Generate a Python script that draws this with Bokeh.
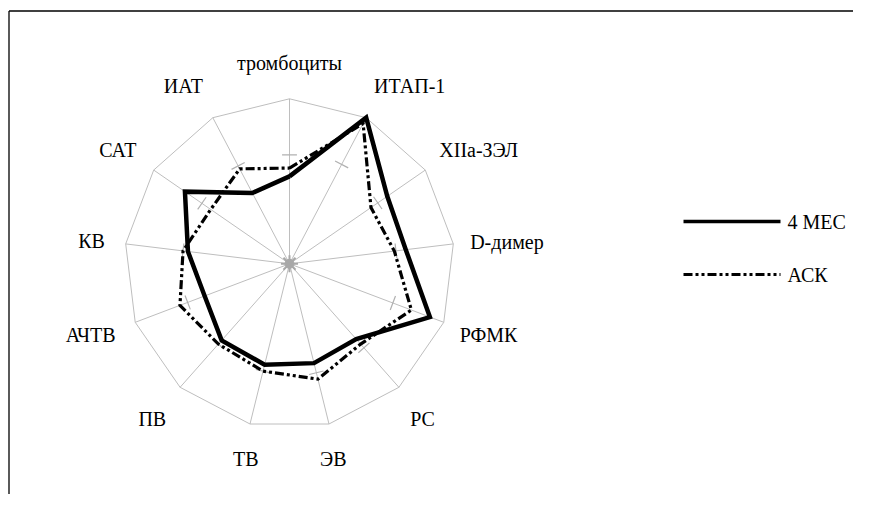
import math
from bokeh.plotting import figure
from bokeh.models import Range1d
from bokeh.core.properties import value
from bokeh.embed import file_html
from bokeh.resources import INLINE

# ---- data ----
categories = ["тромбоциты", "ИТАП-1", "XIIa-ЗЭЛ", "D-димер", "РФМК", "РС", "ЭВ",
              "ТВ", "ПВ", "АЧТВ", "КВ", "САТ", "ИАТ"]
mes4 = [0.53, 1.00, 0.72, 0.71, 0.91, 0.61, 0.62, 0.63, 0.62, 0.55, 0.62, 0.77, 0.485]
ask = [0.58, 0.96, 0.60, 0.64, 0.79, 0.65, 0.72, 0.67, 0.65, 0.71, 0.65, 0.58, 0.65]
norm_marks = [0.66, 0.68, 0.65, 0.65, 0.67, 0.68, 0.68, 0.67, 0.65, 0.66, 0.65, 0.645, 0.67]
series_names = ["4 МЕС", "АСК"]

# ---- layout (pixels) ----
W, H = 853, 494
CX, CY = 289, 263.3   # radar centre inside the figure
R = 165.0

def px(xpix):
    return (xpix - CX) / R

def py(ypix):
    return (CY - ypix) / R

n = len(categories)
ang = [2 * math.pi * k / n for k in range(n)]
ux = [math.sin(a) for a in ang]
uy = [math.cos(a) for a in ang]

p = figure(width=W, height=H, output_backend="svg", toolbar_location=None,
           x_range=Range1d(-CX / R, (W - CX) / R),
           y_range=Range1d(-(H - CY) / R, CY / R),
           min_border=0, outline_line_color=None)
p.axis.visible = False
p.xgrid.visible = False
p.ygrid.visible = False
p.background_fill_color = "white"
p.border_fill_color = "white"

FONT = "Liberation Serif"
FS = "20px"
GRID = "#BEBEBE"

# frame (top and left edges of the chart area)
x_left, y_top = px(8.5), py(10.5)
p.segment(x0=[x_left, x_left], y0=[y_top, y_top], x1=[(W - CX) / R + 0.1, x_left],
          y1=[y_top, -(H - CY) / R - 0.1], line_color="black", line_width=1.3)

# spokes
p.segment(x0=[0] * n, y0=[0] * n, x1=ux, y1=uy, line_color=GRID, line_width=1)
# outer ring
p.line(x=ux + [ux[0]], y=uy + [uy[0]], line_color=GRID, line_width=1)

# grey marks around each spoke
half = 0.045
mx0 = [r * ux[k] - half * uy[k] for k, r in enumerate(norm_marks)]
my0 = [r * uy[k] + half * ux[k] for k, r in enumerate(norm_marks)]
mx1 = [r * ux[k] + half * uy[k] for k, r in enumerate(norm_marks)]
my1 = [r * uy[k] - half * ux[k] for k, r in enumerate(norm_marks)]
p.segment(x0=mx0, y0=my0, x1=mx1, y1=my1, line_color="#B0B0B0", line_width=1.2)

# centre blob
p.scatter(x=[0], y=[0], marker="asterisk", size=17, line_color="#A8A8A8", line_width=2)
p.scatter(x=[0], y=[0], marker="circle", size=9, fill_color="#A8A8A8", line_color="#A8A8A8")

# series
def closed(vals):
    xs = [v * ux[k] for k, v in enumerate(vals)]
    ys = [v * uy[k] for k, v in enumerate(vals)]
    return xs + [xs[0]], ys + [ys[0]]

DASH = "9 3 3 3 3 3"
ax, ay = closed(ask)
p.line(x=ax, y=ay, line_color="black", line_width=3.2, line_dash=DASH, line_join="miter")
sx, sy = closed(mes4)
p.line(x=sx, y=sy, line_color="black", line_width=4.5, line_join="miter")

# category labels
gy = (R + 36) / R
for k, name in enumerate(categories):
    if ux[k] > 0.3:
        al = "left"
        gx = (R + 17) / R
    elif ux[k] < -0.3:
        al = "right"
        gx = (R + 21) / R
    else:
        al = "center"
        gx = (R + 18) / R
    if abs(uy[k]) > 0.3:
        yy = gy * uy[k] - (0.03 if 0.5 < -uy[k] < 0.9 else 0)
    else:
        yy = gx * uy[k]
    p.text(x=[gx * ux[k]], y=[yy], text=[name], text_align=al, text_baseline="middle",
           text_font=value(FONT), text_font_size=FS, text_color="black")

# legend
leg_y = [py(221), py(274)]
p.line(x=[px(683), px(780)], y=[leg_y[0]] * 2, line_color="black", line_width=3.5)
p.line(x=[px(683), px(780)], y=[leg_y[1]] * 2, line_color="black", line_width=3,
       line_dash=DASH)
p.text(x=[px(787)] * 2, y=leg_y, text=series_names, text_align="left",
       text_baseline="middle", text_font=value(FONT), text_font_size=FS,
       text_color="black")

open("out.html", "w").write(file_html(p, INLINE))
